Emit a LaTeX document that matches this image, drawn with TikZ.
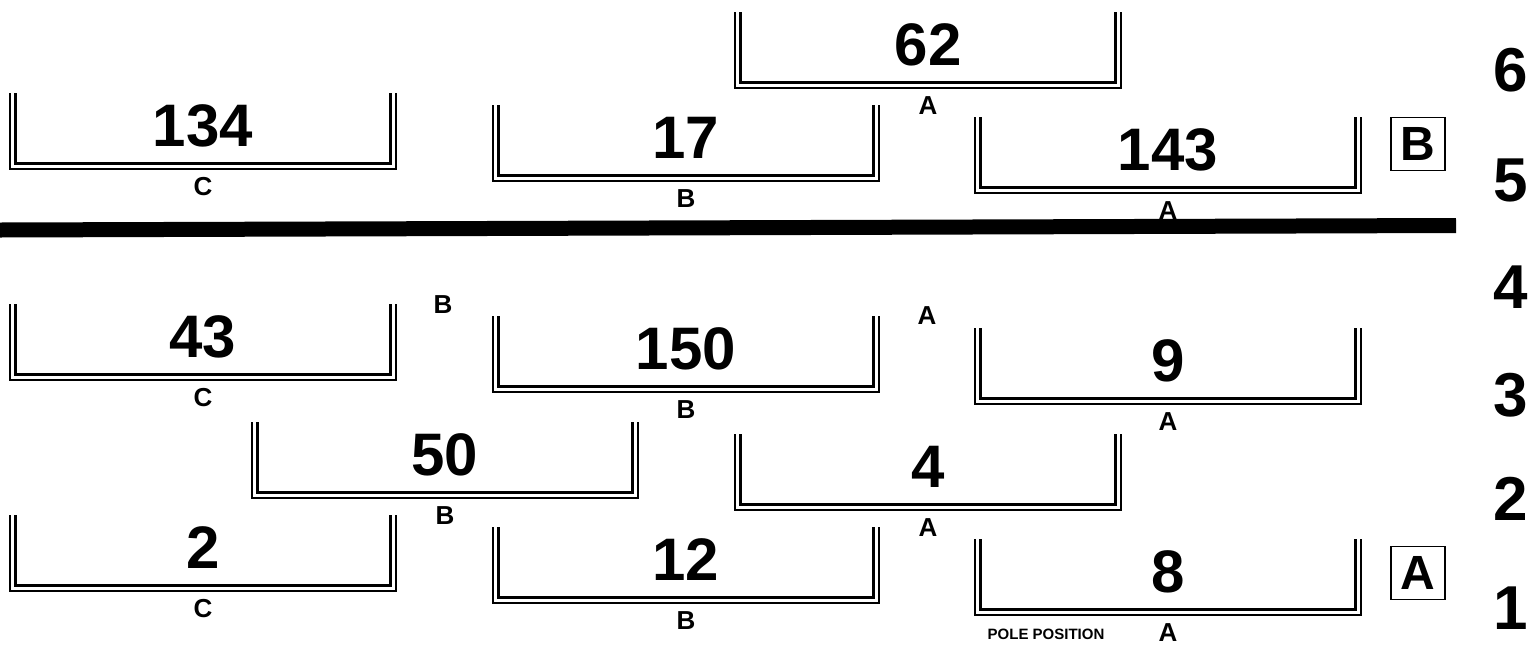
\documentclass[tikz,border=0pt]{standalone}
\usepackage{fontspec}
\setmainfont{Liberation Sans}
\tikzset{
  rail/.style={line width=2.4pt, double=white, double distance=3pt, line join=miter},
  num/.style={font=\fontsize{60}{60}\selectfont\bfseries, inner sep=0pt},
  lab/.style={font=\fontsize{26}{26}\selectfont\bfseries, inner sep=0pt},
  rownum/.style={font=\fontsize{62}{62}\selectfont\bfseries, inner sep=0pt},
  boxlab/.style={draw, line width=1.2pt, font=\fontsize{48}{48}\selectfont\bfseries, minimum width=54pt, minimum height=53pt, inner sep=0pt},
  small/.style={font=\fontsize{15}{15}\selectfont\bfseries, inner sep=0pt},
  bar/.style={line width=15pt}
}
\newcommand\slot[5]{% name, left, top, number, letter
  \draw[rail] ({#2+3.9},{#3}) -- ({#2+3.9},{#3+73.1}) -- ({#2+384.1},{#3+73.1}) -- ({#2+384.1},{#3});
  \node[num] (n#1) at ({#2+194},{#3+33}) {#4};
  \node[lab] (l#1) at ({#2+194},{#3+94}) {#5};
}
\begin{document}
\begin{tikzpicture}[x=1pt,y=-1pt]
\useasboundingbox (0,0) rectangle (1531,646);
% row 6
\slot{62}{734}{12}{62}{A}
% row 5
\slot{134}{9}{93}{134}{C}
\slot{17}{492}{105}{17}{B}
\slot{143}{974}{117}{143}{A}
% divider
\coordinate (barL) at (0,230);
\coordinate (barR) at (1456,225.5);
\draw[bar] (barL) -- (barR);
% row 4 labels
\node[lab] (r4b) at (443,305) {B};
\node[lab] (r4a) at (927,316) {A};
% row 3
\slot{43}{9}{304}{43}{C}
\slot{150}{492}{316}{150}{B}
\slot{9}{974}{328}{9}{A}
% row 2
\slot{50}{251}{422}{50}{B}
\slot{4}{734}{434}{4}{A}
% row 1
\slot{2}{9}{515}{2}{C}
\slot{12}{492}{527}{12}{B}
\slot{8}{974}{539}{8}{A}
\node[small] (pole) at (1046,634) {POLE POSITION};
% boxed letters
\node[boxlab] (boxB) at (1418,144) {B};
\node[boxlab] (boxA) at (1418,573) {A};
% row numbers
\node[rownum] (k6) at (1511,70) {6};
\node[rownum] (k5) at (1511,180) {5};
\node[rownum] (k4) at (1511,287) {4};
\node[rownum] (k3) at (1511,395) {3};
\node[rownum] (k2) at (1511,499) {2};
\node[rownum] (k1) at (1511,608) {1};
\end{tikzpicture}
\end{document}
